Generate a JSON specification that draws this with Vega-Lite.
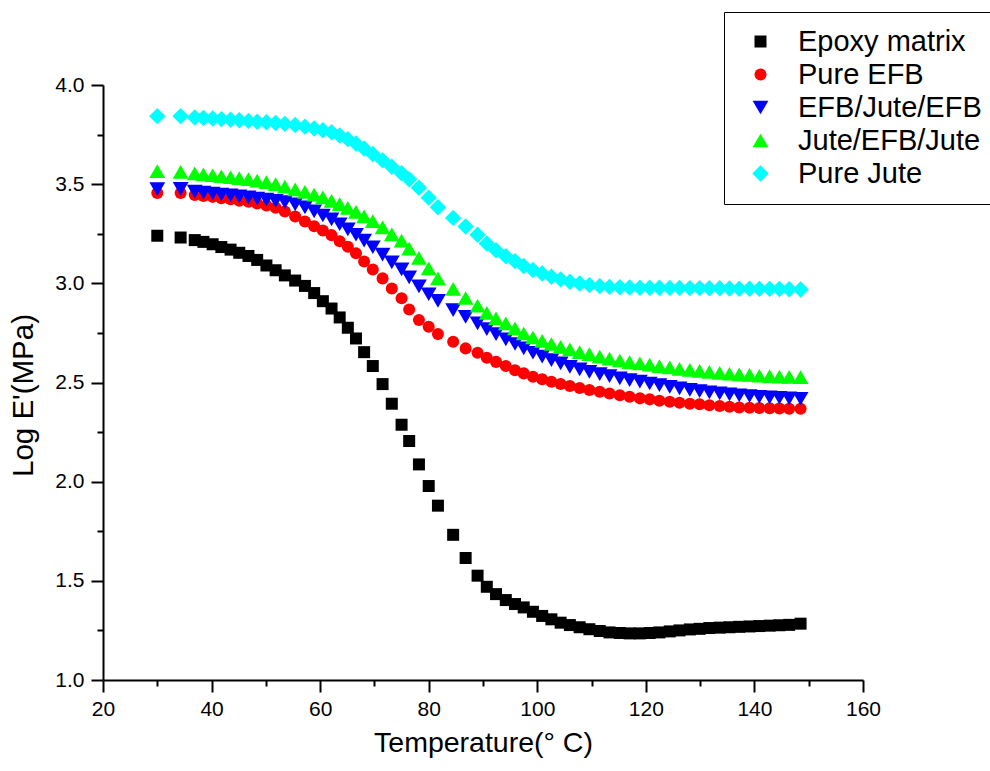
{
  "$schema": "https://vega.github.io/schema/vega-lite/v6.json",
  "width": 760,
  "height": 595,
  "autosize": {"type": "none"},
  "padding": {"left": 103, "top": 85, "right": 127, "bottom": 91},
  "background": "white",
  "config": {"view": {"stroke": null}, "font": "Liberation Sans"},
  "data": {"values": [
    {"series":"Epoxy matrix","temp":30.0,"logE":3.240},{"series":"Epoxy matrix","temp":34.3,"logE":3.231},{"series":"Epoxy matrix","temp":36.9,"logE":3.218},{"series":"Epoxy matrix","temp":38.5,"logE":3.209},{"series":"Epoxy matrix","temp":40.2,"logE":3.197},{"series":"Epoxy matrix","temp":41.8,"logE":3.183},{"series":"Epoxy matrix","temp":43.5,"logE":3.170},{"series":"Epoxy matrix","temp":45.1,"logE":3.154},{"series":"Epoxy matrix","temp":46.8,"logE":3.138},{"series":"Epoxy matrix","temp":48.4,"logE":3.118},
    {"series":"Epoxy matrix","temp":50.1,"logE":3.090},{"series":"Epoxy matrix","temp":51.8,"logE":3.066},{"series":"Epoxy matrix","temp":53.5,"logE":3.040},{"series":"Epoxy matrix","temp":55.4,"logE":3.014},{"series":"Epoxy matrix","temp":57.2,"logE":2.987},{"series":"Epoxy matrix","temp":58.9,"logE":2.951},{"series":"Epoxy matrix","temp":60.5,"logE":2.910},{"series":"Epoxy matrix","temp":62.1,"logE":2.873},{"series":"Epoxy matrix","temp":63.6,"logE":2.828},{"series":"Epoxy matrix","temp":65.1,"logE":2.776},
    {"series":"Epoxy matrix","temp":66.6,"logE":2.722},{"series":"Epoxy matrix","temp":68.1,"logE":2.653},{"series":"Epoxy matrix","temp":69.7,"logE":2.583},{"series":"Epoxy matrix","temp":71.5,"logE":2.492},{"series":"Epoxy matrix","temp":73.2,"logE":2.393},{"series":"Epoxy matrix","temp":75.0,"logE":2.287},{"series":"Epoxy matrix","temp":76.4,"logE":2.205},{"series":"Epoxy matrix","temp":78.2,"logE":2.087},{"series":"Epoxy matrix","temp":80.0,"logE":1.978},{"series":"Epoxy matrix","temp":81.7,"logE":1.879},
    {"series":"Epoxy matrix","temp":84.5,"logE":1.732},{"series":"Epoxy matrix","temp":86.8,"logE":1.615},{"series":"Epoxy matrix","temp":89.0,"logE":1.526},{"series":"Epoxy matrix","temp":90.7,"logE":1.470},{"series":"Epoxy matrix","temp":92.4,"logE":1.433},{"series":"Epoxy matrix","temp":94.2,"logE":1.403},{"series":"Epoxy matrix","temp":95.9,"logE":1.383},{"series":"Epoxy matrix","temp":97.5,"logE":1.366},{"series":"Epoxy matrix","temp":99.2,"logE":1.344},{"series":"Epoxy matrix","temp":100.9,"logE":1.323},
    {"series":"Epoxy matrix","temp":102.6,"logE":1.306},{"series":"Epoxy matrix","temp":104.3,"logE":1.289},{"series":"Epoxy matrix","temp":106.0,"logE":1.277},{"series":"Epoxy matrix","temp":107.8,"logE":1.266},{"series":"Epoxy matrix","temp":109.6,"logE":1.256},{"series":"Epoxy matrix","temp":111.5,"logE":1.247},{"series":"Epoxy matrix","temp":113.3,"logE":1.240},{"series":"Epoxy matrix","temp":115.2,"logE":1.237},{"series":"Epoxy matrix","temp":117.0,"logE":1.235},{"series":"Epoxy matrix","temp":118.9,"logE":1.235},
    {"series":"Epoxy matrix","temp":120.7,"logE":1.237},{"series":"Epoxy matrix","temp":122.5,"logE":1.240},{"series":"Epoxy matrix","temp":124.4,"logE":1.245},{"series":"Epoxy matrix","temp":126.2,"logE":1.250},{"series":"Epoxy matrix","temp":128.1,"logE":1.255},{"series":"Epoxy matrix","temp":129.9,"logE":1.258},{"series":"Epoxy matrix","temp":131.7,"logE":1.262},{"series":"Epoxy matrix","temp":133.6,"logE":1.264},{"series":"Epoxy matrix","temp":135.4,"logE":1.266},{"series":"Epoxy matrix","temp":137.2,"logE":1.268},
    {"series":"Epoxy matrix","temp":139.1,"logE":1.270},{"series":"Epoxy matrix","temp":140.9,"logE":1.272},{"series":"Epoxy matrix","temp":142.8,"logE":1.274},{"series":"Epoxy matrix","temp":144.6,"logE":1.276},{"series":"Epoxy matrix","temp":146.4,"logE":1.278},{"series":"Epoxy matrix","temp":148.5,"logE":1.284},

    {"series":"Pure EFB","temp":30.0,"logE":3.456},{"series":"Pure EFB","temp":34.3,"logE":3.456},{"series":"Pure EFB","temp":36.9,"logE":3.445},{"series":"Pure EFB","temp":38.5,"logE":3.440},{"series":"Pure EFB","temp":40.2,"logE":3.436},{"series":"Pure EFB","temp":41.8,"logE":3.429},{"series":"Pure EFB","temp":43.5,"logE":3.424},{"series":"Pure EFB","temp":45.1,"logE":3.417},{"series":"Pure EFB","temp":46.8,"logE":3.411},{"series":"Pure EFB","temp":48.4,"logE":3.403},
    {"series":"Pure EFB","temp":50.1,"logE":3.393},{"series":"Pure EFB","temp":51.8,"logE":3.381},{"series":"Pure EFB","temp":53.5,"logE":3.362},{"series":"Pure EFB","temp":55.4,"logE":3.337},{"series":"Pure EFB","temp":57.2,"logE":3.312},{"series":"Pure EFB","temp":58.9,"logE":3.288},{"series":"Pure EFB","temp":60.5,"logE":3.266},{"series":"Pure EFB","temp":62.1,"logE":3.243},{"series":"Pure EFB","temp":63.6,"logE":3.212},{"series":"Pure EFB","temp":65.1,"logE":3.184},
    {"series":"Pure EFB","temp":66.6,"logE":3.152},{"series":"Pure EFB","temp":68.1,"logE":3.110},{"series":"Pure EFB","temp":69.7,"logE":3.070},{"series":"Pure EFB","temp":71.5,"logE":3.025},{"series":"Pure EFB","temp":73.2,"logE":2.974},{"series":"Pure EFB","temp":75.0,"logE":2.925},{"series":"Pure EFB","temp":76.4,"logE":2.868},{"series":"Pure EFB","temp":78.2,"logE":2.815},{"series":"Pure EFB","temp":80.0,"logE":2.781},{"series":"Pure EFB","temp":81.7,"logE":2.744},
    {"series":"Pure EFB","temp":84.5,"logE":2.705},{"series":"Pure EFB","temp":86.8,"logE":2.672},{"series":"Pure EFB","temp":89.0,"logE":2.650},{"series":"Pure EFB","temp":90.7,"logE":2.625},{"series":"Pure EFB","temp":92.4,"logE":2.604},{"series":"Pure EFB","temp":94.2,"logE":2.583},{"series":"Pure EFB","temp":95.9,"logE":2.562},{"series":"Pure EFB","temp":97.5,"logE":2.546},{"series":"Pure EFB","temp":99.2,"logE":2.529},{"series":"Pure EFB","temp":100.9,"logE":2.516},
    {"series":"Pure EFB","temp":102.6,"logE":2.504},{"series":"Pure EFB","temp":104.3,"logE":2.492},{"series":"Pure EFB","temp":106.0,"logE":2.482},{"series":"Pure EFB","temp":107.8,"logE":2.472},{"series":"Pure EFB","temp":109.6,"logE":2.462},{"series":"Pure EFB","temp":111.5,"logE":2.453},{"series":"Pure EFB","temp":113.3,"logE":2.445},{"series":"Pure EFB","temp":115.2,"logE":2.436},{"series":"Pure EFB","temp":117.0,"logE":2.428},{"series":"Pure EFB","temp":118.9,"logE":2.420},
    {"series":"Pure EFB","temp":120.7,"logE":2.415},{"series":"Pure EFB","temp":122.5,"logE":2.408},{"series":"Pure EFB","temp":124.4,"logE":2.403},{"series":"Pure EFB","temp":126.2,"logE":2.398},{"series":"Pure EFB","temp":128.1,"logE":2.393},{"series":"Pure EFB","temp":129.9,"logE":2.390},{"series":"Pure EFB","temp":131.7,"logE":2.385},{"series":"Pure EFB","temp":133.6,"logE":2.381},{"series":"Pure EFB","temp":135.4,"logE":2.378},{"series":"Pure EFB","temp":137.2,"logE":2.374},
    {"series":"Pure EFB","temp":139.1,"logE":2.373},{"series":"Pure EFB","temp":140.9,"logE":2.371},{"series":"Pure EFB","temp":142.8,"logE":2.370},{"series":"Pure EFB","temp":144.6,"logE":2.369},{"series":"Pure EFB","temp":146.4,"logE":2.368},{"series":"Pure EFB","temp":148.5,"logE":2.368},

    {"series":"EFB/Jute/EFB","temp":30.0,"logE":3.475},{"series":"EFB/Jute/EFB","temp":34.3,"logE":3.476},{"series":"EFB/Jute/EFB","temp":36.9,"logE":3.462},{"series":"EFB/Jute/EFB","temp":38.5,"logE":3.457},{"series":"EFB/Jute/EFB","temp":40.2,"logE":3.453},{"series":"EFB/Jute/EFB","temp":41.8,"logE":3.448},{"series":"EFB/Jute/EFB","temp":43.5,"logE":3.443},{"series":"EFB/Jute/EFB","temp":45.1,"logE":3.438},{"series":"EFB/Jute/EFB","temp":46.8,"logE":3.433},{"series":"EFB/Jute/EFB","temp":48.4,"logE":3.427},
    {"series":"EFB/Jute/EFB","temp":50.1,"logE":3.422},{"series":"EFB/Jute/EFB","temp":51.8,"logE":3.416},{"series":"EFB/Jute/EFB","temp":53.5,"logE":3.409},{"series":"EFB/Jute/EFB","temp":55.4,"logE":3.398},{"series":"EFB/Jute/EFB","temp":57.2,"logE":3.383},{"series":"EFB/Jute/EFB","temp":58.9,"logE":3.363},{"series":"EFB/Jute/EFB","temp":60.5,"logE":3.342},{"series":"EFB/Jute/EFB","temp":62.1,"logE":3.322},{"series":"EFB/Jute/EFB","temp":63.6,"logE":3.298},{"series":"EFB/Jute/EFB","temp":65.1,"logE":3.272},
    {"series":"EFB/Jute/EFB","temp":66.6,"logE":3.245},{"series":"EFB/Jute/EFB","temp":68.1,"logE":3.215},{"series":"EFB/Jute/EFB","temp":69.7,"logE":3.182},{"series":"EFB/Jute/EFB","temp":71.5,"logE":3.145},{"series":"EFB/Jute/EFB","temp":73.2,"logE":3.106},{"series":"EFB/Jute/EFB","temp":75.0,"logE":3.070},{"series":"EFB/Jute/EFB","temp":76.4,"logE":3.030},{"series":"EFB/Jute/EFB","temp":78.2,"logE":2.985},{"series":"EFB/Jute/EFB","temp":80.0,"logE":2.945},{"series":"EFB/Jute/EFB","temp":81.7,"logE":2.912},
    {"series":"EFB/Jute/EFB","temp":84.5,"logE":2.865},{"series":"EFB/Jute/EFB","temp":86.8,"logE":2.831},{"series":"EFB/Jute/EFB","temp":89.0,"logE":2.798},{"series":"EFB/Jute/EFB","temp":90.7,"logE":2.769},{"series":"EFB/Jute/EFB","temp":92.4,"logE":2.744},{"series":"EFB/Jute/EFB","temp":94.2,"logE":2.717},{"series":"EFB/Jute/EFB","temp":95.9,"logE":2.694},{"series":"EFB/Jute/EFB","temp":97.5,"logE":2.672},{"series":"EFB/Jute/EFB","temp":99.2,"logE":2.650},{"series":"EFB/Jute/EFB","temp":100.9,"logE":2.630},
    {"series":"EFB/Jute/EFB","temp":102.6,"logE":2.613},{"series":"EFB/Jute/EFB","temp":104.3,"logE":2.596},{"series":"EFB/Jute/EFB","temp":106.0,"logE":2.579},{"series":"EFB/Jute/EFB","temp":107.8,"logE":2.566},{"series":"EFB/Jute/EFB","temp":109.6,"logE":2.554},{"series":"EFB/Jute/EFB","temp":111.5,"logE":2.542},{"series":"EFB/Jute/EFB","temp":113.3,"logE":2.532},{"series":"EFB/Jute/EFB","temp":115.2,"logE":2.521},{"series":"EFB/Jute/EFB","temp":117.0,"logE":2.512},{"series":"EFB/Jute/EFB","temp":118.9,"logE":2.504},
    {"series":"EFB/Jute/EFB","temp":120.7,"logE":2.495},{"series":"EFB/Jute/EFB","temp":122.5,"logE":2.487},{"series":"EFB/Jute/EFB","temp":124.4,"logE":2.478},{"series":"EFB/Jute/EFB","temp":126.2,"logE":2.470},{"series":"EFB/Jute/EFB","temp":128.1,"logE":2.463},{"series":"EFB/Jute/EFB","temp":129.9,"logE":2.457},{"series":"EFB/Jute/EFB","temp":131.7,"logE":2.450},{"series":"EFB/Jute/EFB","temp":133.6,"logE":2.445},{"series":"EFB/Jute/EFB","temp":135.4,"logE":2.440},{"series":"EFB/Jute/EFB","temp":137.2,"logE":2.435},
    {"series":"EFB/Jute/EFB","temp":139.1,"logE":2.432},{"series":"EFB/Jute/EFB","temp":140.9,"logE":2.428},{"series":"EFB/Jute/EFB","temp":142.8,"logE":2.425},{"series":"EFB/Jute/EFB","temp":144.6,"logE":2.423},{"series":"EFB/Jute/EFB","temp":146.4,"logE":2.420},{"series":"EFB/Jute/EFB","temp":148.5,"logE":2.418},

    {"series":"Jute/EFB/Jute","temp":30.0,"logE":3.566},{"series":"Jute/EFB/Jute","temp":34.3,"logE":3.562},{"series":"Jute/EFB/Jute","temp":36.9,"logE":3.554},{"series":"Jute/EFB/Jute","temp":38.5,"logE":3.549},{"series":"Jute/EFB/Jute","temp":40.2,"logE":3.545},{"series":"Jute/EFB/Jute","temp":41.8,"logE":3.540},{"series":"Jute/EFB/Jute","temp":43.5,"logE":3.535},{"series":"Jute/EFB/Jute","temp":45.1,"logE":3.530},{"series":"Jute/EFB/Jute","temp":46.8,"logE":3.525},{"series":"Jute/EFB/Jute","temp":48.4,"logE":3.518},
    {"series":"Jute/EFB/Jute","temp":50.1,"logE":3.510},{"series":"Jute/EFB/Jute","temp":51.8,"logE":3.500},{"series":"Jute/EFB/Jute","temp":53.5,"logE":3.488},{"series":"Jute/EFB/Jute","temp":55.4,"logE":3.474},{"series":"Jute/EFB/Jute","temp":57.2,"logE":3.461},{"series":"Jute/EFB/Jute","temp":58.9,"logE":3.447},{"series":"Jute/EFB/Jute","temp":60.5,"logE":3.433},{"series":"Jute/EFB/Jute","temp":62.1,"logE":3.416},{"series":"Jute/EFB/Jute","temp":63.6,"logE":3.399},{"series":"Jute/EFB/Jute","temp":65.1,"logE":3.380},
    {"series":"Jute/EFB/Jute","temp":66.6,"logE":3.360},{"series":"Jute/EFB/Jute","temp":68.1,"logE":3.338},{"series":"Jute/EFB/Jute","temp":69.7,"logE":3.314},{"series":"Jute/EFB/Jute","temp":71.5,"logE":3.282},{"series":"Jute/EFB/Jute","temp":73.2,"logE":3.247},{"series":"Jute/EFB/Jute","temp":75.0,"logE":3.215},{"series":"Jute/EFB/Jute","temp":76.4,"logE":3.175},{"series":"Jute/EFB/Jute","temp":78.2,"logE":3.128},{"series":"Jute/EFB/Jute","temp":80.0,"logE":3.075},{"series":"Jute/EFB/Jute","temp":81.7,"logE":3.025},
    {"series":"Jute/EFB/Jute","temp":84.5,"logE":2.972},{"series":"Jute/EFB/Jute","temp":86.8,"logE":2.926},{"series":"Jute/EFB/Jute","temp":89.0,"logE":2.887},{"series":"Jute/EFB/Jute","temp":90.7,"logE":2.851},{"series":"Jute/EFB/Jute","temp":92.4,"logE":2.823},{"series":"Jute/EFB/Jute","temp":94.2,"logE":2.798},{"series":"Jute/EFB/Jute","temp":95.9,"logE":2.773},{"series":"Jute/EFB/Jute","temp":97.5,"logE":2.747},{"series":"Jute/EFB/Jute","temp":99.2,"logE":2.727},{"series":"Jute/EFB/Jute","temp":100.9,"logE":2.710},
    {"series":"Jute/EFB/Jute","temp":102.6,"logE":2.694},{"series":"Jute/EFB/Jute","temp":104.3,"logE":2.680},{"series":"Jute/EFB/Jute","temp":106.0,"logE":2.667},{"series":"Jute/EFB/Jute","temp":107.8,"logE":2.653},{"series":"Jute/EFB/Jute","temp":109.6,"logE":2.643},{"series":"Jute/EFB/Jute","temp":111.5,"logE":2.630},{"series":"Jute/EFB/Jute","temp":113.3,"logE":2.620},{"series":"Jute/EFB/Jute","temp":115.2,"logE":2.611},{"series":"Jute/EFB/Jute","temp":117.0,"logE":2.603},{"series":"Jute/EFB/Jute","temp":118.9,"logE":2.596},
    {"series":"Jute/EFB/Jute","temp":120.7,"logE":2.590},{"series":"Jute/EFB/Jute","temp":122.5,"logE":2.583},{"series":"Jute/EFB/Jute","temp":124.4,"logE":2.576},{"series":"Jute/EFB/Jute","temp":126.2,"logE":2.569},{"series":"Jute/EFB/Jute","temp":128.1,"logE":2.564},{"series":"Jute/EFB/Jute","temp":129.9,"logE":2.559},{"series":"Jute/EFB/Jute","temp":131.7,"logE":2.554},{"series":"Jute/EFB/Jute","temp":133.6,"logE":2.549},{"series":"Jute/EFB/Jute","temp":135.4,"logE":2.544},{"series":"Jute/EFB/Jute","temp":137.2,"logE":2.541},
    {"series":"Jute/EFB/Jute","temp":139.1,"logE":2.538},{"series":"Jute/EFB/Jute","temp":140.9,"logE":2.534},{"series":"Jute/EFB/Jute","temp":142.8,"logE":2.532},{"series":"Jute/EFB/Jute","temp":144.6,"logE":2.530},{"series":"Jute/EFB/Jute","temp":146.4,"logE":2.528},{"series":"Jute/EFB/Jute","temp":148.5,"logE":2.527},

    {"series":"Pure Jute","temp":30.0,"logE":3.843},{"series":"Pure Jute","temp":34.3,"logE":3.843},{"series":"Pure Jute","temp":36.9,"logE":3.836},{"series":"Pure Jute","temp":38.5,"logE":3.834},{"series":"Pure Jute","temp":40.2,"logE":3.831},{"series":"Pure Jute","temp":41.8,"logE":3.828},{"series":"Pure Jute","temp":43.5,"logE":3.825},{"series":"Pure Jute","temp":45.1,"logE":3.822},{"series":"Pure Jute","temp":46.8,"logE":3.819},{"series":"Pure Jute","temp":48.4,"logE":3.815},
    {"series":"Pure Jute","temp":50.1,"logE":3.812},{"series":"Pure Jute","temp":51.8,"logE":3.808},{"series":"Pure Jute","temp":53.5,"logE":3.804},{"series":"Pure Jute","temp":55.4,"logE":3.798},{"series":"Pure Jute","temp":57.2,"logE":3.790},{"series":"Pure Jute","temp":58.9,"logE":3.781},{"series":"Pure Jute","temp":60.5,"logE":3.772},{"series":"Pure Jute","temp":62.1,"logE":3.762},{"series":"Pure Jute","temp":63.6,"logE":3.745},{"series":"Pure Jute","temp":65.1,"logE":3.727},
    {"series":"Pure Jute","temp":66.6,"logE":3.705},{"series":"Pure Jute","temp":68.1,"logE":3.680},{"series":"Pure Jute","temp":69.7,"logE":3.652},{"series":"Pure Jute","temp":71.5,"logE":3.620},{"series":"Pure Jute","temp":73.2,"logE":3.588},{"series":"Pure Jute","temp":75.0,"logE":3.555},{"series":"Pure Jute","temp":76.4,"logE":3.525},{"series":"Pure Jute","temp":78.2,"logE":3.482},{"series":"Pure Jute","temp":80.0,"logE":3.432},{"series":"Pure Jute","temp":81.7,"logE":3.384},
    {"series":"Pure Jute","temp":84.5,"logE":3.330},{"series":"Pure Jute","temp":86.8,"logE":3.287},{"series":"Pure Jute","temp":89.0,"logE":3.245},{"series":"Pure Jute","temp":90.7,"logE":3.201},{"series":"Pure Jute","temp":92.4,"logE":3.167},{"series":"Pure Jute","temp":94.2,"logE":3.137},{"series":"Pure Jute","temp":95.9,"logE":3.112},{"series":"Pure Jute","temp":97.5,"logE":3.087},{"series":"Pure Jute","temp":99.2,"logE":3.067},{"series":"Pure Jute","temp":100.9,"logE":3.050},
    {"series":"Pure Jute","temp":102.6,"logE":3.033},{"series":"Pure Jute","temp":104.3,"logE":3.020},{"series":"Pure Jute","temp":106.0,"logE":3.008},{"series":"Pure Jute","temp":107.8,"logE":2.999},{"series":"Pure Jute","temp":109.6,"logE":2.991},{"series":"Pure Jute","temp":111.5,"logE":2.986},{"series":"Pure Jute","temp":113.3,"logE":2.982},{"series":"Pure Jute","temp":115.2,"logE":2.980},{"series":"Pure Jute","temp":117.0,"logE":2.979},{"series":"Pure Jute","temp":118.9,"logE":2.978},
    {"series":"Pure Jute","temp":120.7,"logE":2.978},{"series":"Pure Jute","temp":122.5,"logE":2.978},{"series":"Pure Jute","temp":124.4,"logE":2.977},{"series":"Pure Jute","temp":126.2,"logE":2.977},{"series":"Pure Jute","temp":128.1,"logE":2.976},{"series":"Pure Jute","temp":129.9,"logE":2.976},{"series":"Pure Jute","temp":131.7,"logE":2.975},{"series":"Pure Jute","temp":133.6,"logE":2.975},{"series":"Pure Jute","temp":135.4,"logE":2.974},{"series":"Pure Jute","temp":137.2,"logE":2.973},
    {"series":"Pure Jute","temp":139.1,"logE":2.973},{"series":"Pure Jute","temp":140.9,"logE":2.972},{"series":"Pure Jute","temp":142.8,"logE":2.972},{"series":"Pure Jute","temp":144.6,"logE":2.971},{"series":"Pure Jute","temp":146.4,"logE":2.970},{"series":"Pure Jute","temp":148.5,"logE":2.969}
  ]},
  "mark": {"type": "point", "filled": true, "opacity": 1, "strokeWidth": 0},
  "encoding": {
    "x": {
      "field": "temp", "type": "quantitative",
      "scale": {"domain": [20, 160], "nice": false, "zero": false},
      "axis": {
        "title": "Temperature(° C)",
        "values": [20, 30, 40, 50, 60, 70, 80, 90, 100, 110, 120, 130, 140, 150, 160],
        "labelExpr": "datum.value % 20 === 0 ? datum.label : ''",
        "tickSize": {"condition": {"test": "datum.value % 20 === 0", "value": 12}, "value": 6},
        "tickWidth": 2, "tickColor": "black",
        "domainColor": "black", "domainWidth": 2,
        "labelFont": "Liberation Sans", "labelFontSize": 21, "labelColor": "black",
        "labelPadding": 6, "labelFlush": false, "labelOverlap": false,
        "titleFont": "Liberation Sans", "titleFontSize": 28.5, "titleFontWeight": "normal", "titleColor": "black",
        "titlePadding": 9, "grid": false
      }
    },
    "y": {
      "field": "logE", "type": "quantitative",
      "scale": {"domain": [1, 4], "nice": false, "zero": false},
      "axis": {
        "title": "Log E'(MPa)",
        "values": [1, 1.25, 1.5, 1.75, 2, 2.25, 2.5, 2.75, 3, 3.25, 3.5, 3.75, 4],
        "labelExpr": "abs(datum.value * 2 - round(datum.value * 2)) < 0.001 ? format(datum.value, '.1f') : ''",
        "tickSize": {"condition": {"test": "abs(datum.value * 2 - round(datum.value * 2)) < 0.001", "value": 12}, "value": 6},
        "tickWidth": 2, "tickColor": "black",
        "domainColor": "black", "domainWidth": 2,
        "labelFont": "Liberation Sans", "labelFontSize": 21, "labelColor": "black",
        "labelPadding": 7, "labelOverlap": false,
        "titleFont": "Liberation Sans", "titleFontSize": 29.5, "titleFontWeight": "normal", "titleColor": "black",
        "titlePadding": 16, "titleY": 310, "grid": false
      }
    },
    "color": {
      "field": "series", "type": "nominal",
      "scale": {"domain": ["Epoxy matrix", "Pure EFB", "EFB/Jute/EFB", "Jute/EFB/Jute", "Pure Jute"], "range": ["#000000", "#ff0000", "#0000ff", "#00ff00", "#00ffff"]},
      "legend": {
        "title": null, "orient": "none", "legendX": 621, "legendY": -73,
        "padding": 15, "strokeColor": "black", "fillColor": "white",
        "labelFont": "Liberation Sans", "labelFontSize": 29, "labelColor": "black", "labelLimit": 400,
        "symbolSize": 320, "symbolOffset": 7, "labelOffset": 23, "rowPadding": 3, "symbolStrokeWidth": 0
      }
    },
    "shape": {
      "field": "series", "type": "nominal",
      "scale": {"domain": ["Epoxy matrix", "Pure EFB", "EFB/Jute/EFB", "Jute/EFB/Jute", "Pure Jute"], "range": ["square", "circle", "triangle-down", "triangle-up", "diamond"]},
      "legend": {
        "title": null, "orient": "none", "legendX": 621, "legendY": -73,
        "padding": 15, "strokeColor": "black", "fillColor": "white",
        "labelFont": "Liberation Sans", "labelFontSize": 29, "labelColor": "black", "labelLimit": 400,
        "symbolSize": 320, "symbolOffset": 7, "labelOffset": 23, "rowPadding": 3, "symbolStrokeWidth": 0
      }
    },
    "size": {
      "field": "series", "type": "nominal",
      "scale": {"type": "ordinal", "domain": ["Epoxy matrix", "Pure EFB", "EFB/Jute/EFB", "Jute/EFB/Jute", "Pure Jute"], "range": [144, 145, 250, 250, 270]},
      "legend": null
    }
  }
}
